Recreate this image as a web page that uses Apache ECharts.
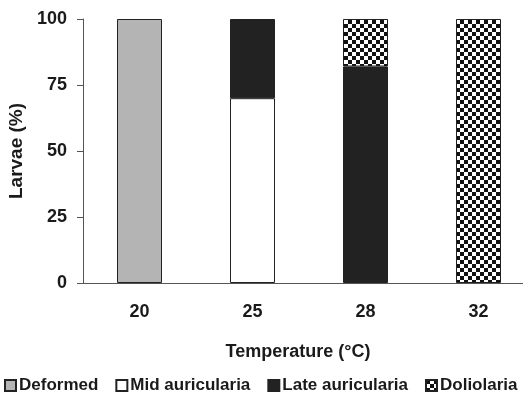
<!DOCTYPE html>
<html>
<head>
<meta charset="utf-8">
<script src="https://cdn.jsdelivr.net/npm/echarts@6/dist/echarts.min.js"></script>
<style>
  html, body { margin: 0; padding: 0; background: #fff; }
  #chart { width: 523px; height: 394px; }
</style>
</head>
<body>
<div id="chart"></div>
<script>
// data
var temps = ['20', '25', '28', '32'];
var deformed = [100, 0, 0, 0];
var midAuricularia = [0, 70, 0, 0];
var lateAuricularia = [0, 30, 82, 0];
var doliolaria = [0, 0, 18, 100];
var yTicks = [0, 25, 50, 75, 100];

// checkerboard fill for Doliolaria
function checker() {
	var c = document.createElement('canvas');
	c.width = 8; c.height = 8;
	var ctx = c.getContext('2d');
	ctx.fillStyle = '#fff';
	ctx.fillRect(0, 0, 8, 8);
	ctx.fillStyle = '#111';
	ctx.fillRect(0, 0, 4, 4);
	ctx.fillRect(4, 4, 4, 4);
	return c;
}

var chart = echarts.init(document.getElementById('chart'));
var font = 'Liberation Sans, Arial, sans-serif';
var txt = { fontFamily: font, fontWeight: 'bold', fontSize: 18, color: '#1a1a1a' };

function bar(name, data, color) {
	return {
		name: name,
		type: 'bar',
		stack: 'all',
		barWidth: 45,
		data: data.map(function (v) { return v === 0 ? null : v; }),
		itemStyle: { color: color, borderColor: '#222', borderWidth: 1 },
		emphasis: { disabled: true }
	};
}

var option = {
	animation: false,
	backgroundColor: '#fff',
	grid: { left: 83, right: -12, top: 19, bottom: 111, outerBoundsMode: 'none', containLabel: false },
	legend: {
		left: -1,
		top: 372,
		itemWidth: 11,
		itemHeight: 11,
		itemGap: 17,
		icon: 'rect',
		textStyle: Object.assign({}, txt, { fontSize: 17, padding: [0, 0, 0, -2] }),
		data: ['Deformed', 'Mid auricularia', 'Late auricularia', 'Doliolaria']
	},
	xAxis: {
		type: 'category',
		data: temps,
		name: 'Temperature (°C)',
		nameLocation: 'middle',
		nameGap: 60,
		nameTextStyle: Object.assign({}, txt, { padding: [0, 22, 0, 0] }),
		axisLine: { lineStyle: { color: '#555', width: 1 } },
		axisTick: { length: 6, lineStyle: { color: '#555' } },
		axisLabel: Object.assign({}, txt, { margin: 20 })
	},
	yAxis: {
		type: 'value',
		min: yTicks[0],
		max: yTicks[yTicks.length - 1],
		interval: 25,
		name: 'Larvae (%)',
		nameLocation: 'middle',
		nameGap: 49,
		nameTextStyle: Object.assign({}, txt, { fontSize: 19 }),
		splitLine: { show: false },
		axisLine: { show: true, lineStyle: { color: '#555', width: 1 } },
		axisTick: { show: true, length: 6, lineStyle: { color: '#555' } },
		axisLabel: Object.assign({}, txt, { margin: 16 })
	},
	series: [
		bar('Deformed', deformed, '#b4b4b4'),
		bar('Mid auricularia', midAuricularia, '#ffffff'),
		bar('Late auricularia', lateAuricularia, '#222222'),
		bar('Doliolaria', doliolaria, { image: checker(), repeat: 'repeat' })
	]
};

chart.setOption(option);
</script>
</body>
</html>
